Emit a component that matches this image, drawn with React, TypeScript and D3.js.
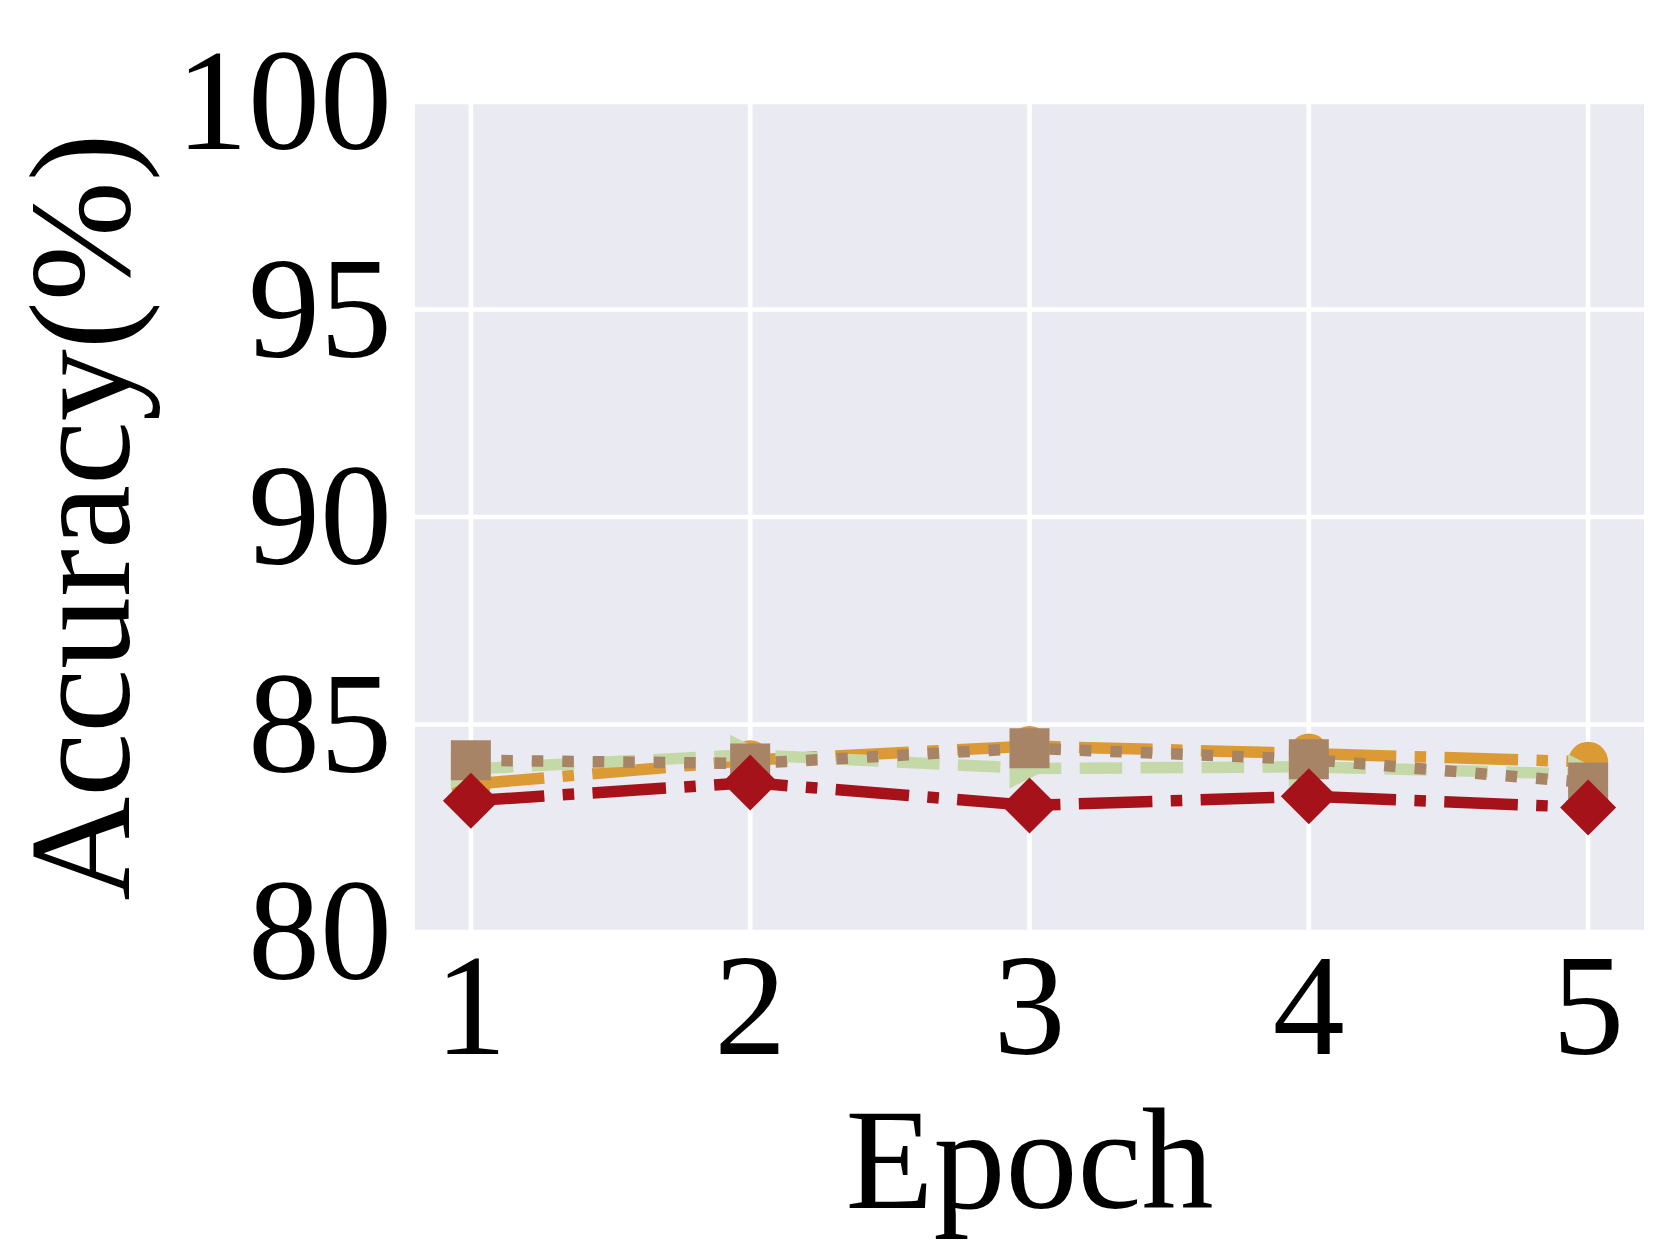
import { useRef, useEffect } from 'react';
import * as d3 from 'd3';

// values
const epochs = [1, 2, 3, 4, 5];
const yTicks = [80, 85, 90, 95, 100];

const orangeCircle = [83.56, 84.14, 84.48, 84.3, 84.1];
const greenTriangle = [83.93, 84.27, 83.94, 83.98, 83.8];
const brownSquare = [84.14, 84.06, 84.43, 84.16, 83.6];
const redDiamond = [83.16, 83.6, 83.05, 83.27, 83.0];

const WIDTH = 1661;
const HEIGHT = 1246;
const FONT = '"Liberation Serif", "Times New Roman", serif';
const LW = 11.5;

const App = () => {
  const chartRef = useRef<SVGSVGElement | null>(null);

  const drawChart = () => {
    const root = d3.select(chartRef.current);
    root.selectAll('*').remove();

    const PLOT = { LEFT: 415, RIGHT: 1644, TOP: 102, BOTTOM: 932 };

    const xScale = d3.scaleLinear()
      .domain([0.8, 5.2])
      .range([PLOT.LEFT, PLOT.RIGHT]);

    const yScale = d3.scaleLinear()
      .domain([80, 100])
      .range([PLOT.BOTTOM, PLOT.TOP]);

    // background + grid
    root.append('rect')
      .attr('x', PLOT.LEFT)
      .attr('y', PLOT.TOP)
      .attr('width', PLOT.RIGHT - PLOT.LEFT)
      .attr('height', PLOT.BOTTOM - PLOT.TOP)
      .attr('fill', '#eaeaf2');

    const grid = root.append('g')
      .attr('stroke', '#ffffff')
      .attr('stroke-width', 4.7);

    grid.selectAll('line.h')
      .data(yTicks)
      .enter()
      .append('line')
      .attr('class', 'h')
      .attr('x1', PLOT.LEFT)
      .attr('x2', PLOT.RIGHT)
      .attr('y1', d => yScale(d))
      .attr('y2', d => yScale(d));

    grid.selectAll('line.v')
      .data(epochs)
      .enter()
      .append('line')
      .attr('class', 'v')
      .attr('x1', d => xScale(d))
      .attr('x2', d => xScale(d))
      .attr('y1', PLOT.TOP)
      .attr('y2', PLOT.BOTTOM);

    const line = d3.line<number>()
      .x((_, i) => xScale(epochs[i]))
      .y(d => yScale(d));

    const series = [
      { values: orangeCircle, color: '#dc9a34', dash: [6.4, 1.6, 1, 1.6], marker: 'circle' },
      { values: greenTriangle, color: '#c5d9a8', dash: [3.7, 1.6], marker: 'triangle' },
      { values: brownSquare, color: '#a88467', dash: [1, 1.65], marker: 'square' },
      { values: redDiamond, color: '#a6121a', dash: [6.4, 1.6, 1, 1.6], marker: 'diamond' },
    ];

    const symbols: Record<string, string> = {
      circle: d3.symbol().type(d3.symbolCircle).size(Math.PI * 20 * 20)() as string,
      square: 'M-20,-20L20,-20L20,20L-20,20Z',
      diamond: 'M0,-28L28,0L0,28L-28,0Z',
      triangle: 'M-20,-20L20,0L-20,20Z',
    };

    series.forEach(s => {
      root.append('path')
        .attr('d', line(s.values))
        .attr('fill', 'none')
        .attr('stroke', s.color)
        .attr('stroke-width', LW)
        .attr('stroke-dasharray', s.dash.map(v => v * LW).join(' '))
        .attr('stroke-linecap', 'butt')
        .attr('stroke-linejoin', 'round');

      root.append('g')
        .selectAll('path')
        .data(s.values)
        .enter()
        .append('path')
        .attr('d', symbols[s.marker])
        .attr('transform', (d, i) => `translate(${xScale(epochs[i])}, ${yScale(d)})`)
        .attr('fill', s.color);
    });

    // tick labels
    root.append('g')
      .selectAll('text')
      .data(yTicks)
      .enter()
      .append('text')
      .attr('x', 392)
      .attr('y', d => yScale(d) + 47)
      .attr('text-anchor', 'end')
      .attr('font-family', FONT)
      .attr('font-size', 144)
      .attr('fill', '#000')
      .text(d => d);

    root.append('g')
      .selectAll('text')
      .data(epochs)
      .enter()
      .append('text')
      .attr('x', d => xScale(d))
      .attr('y', 1054)
      .attr('text-anchor', 'middle')
      .attr('font-family', FONT)
      .attr('font-size', 144)
      .attr('fill', '#000')
      .text(d => d);

    root.append('text')
      .attr('x', (PLOT.LEFT + PLOT.RIGHT) / 2)
      .attr('y', 1208)
      .attr('text-anchor', 'middle')
      .attr('font-family', FONT)
      .attr('font-size', 144)
      .attr('fill', '#000')
      .text('Epoch');

    root.append('text')
      .attr('transform', `translate(129, ${(PLOT.TOP + PLOT.BOTTOM) / 2}) rotate(-90)`)
      .attr('text-anchor', 'middle')
      .attr('font-family', FONT)
      .attr('font-size', 144)
      .attr('fill', '#000')
      .text('Accuracy(%)');
  };

  useEffect(() => {
    drawChart();
  }, []);

  return (
    <div style={{ position: 'absolute', left: 0, top: 0, background: '#fff' }}>
      <svg ref={chartRef} width={WIDTH} height={HEIGHT} style={{ display: 'block' }} />
    </div>
  );
};

export default App;
